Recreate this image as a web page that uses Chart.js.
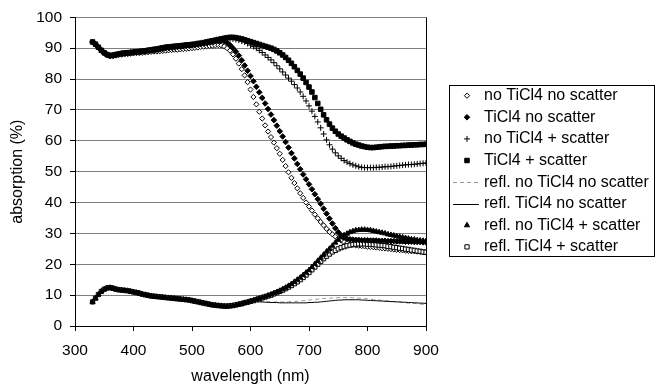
<!DOCTYPE html>
<html>
<head>
<meta charset="utf-8">
<script src="https://cdn.jsdelivr.net/npm/chart.js@4/dist/chart.umd.min.js"></script>
<style>
html,body{margin:0;padding:0;background:#fff;}
#wrap{width:657px;height:386px;}
</style>
</head>
<body>
<div id="wrap"><canvas id="c" width="657" height="386"></canvas></div>
<script>
// wavelength (nm)
const wavelengths = [330,335,340,345,350,355,360,365,370,375,380,385,390,395,400,405,410,415,420,425,430,435,440,445,450,455,460,465,470,475,480,485,490,495,500,505,510,515,520,525,530,535,540,545,550,555,560,565,570,575,580,585,590,595,600,605,610,615,620,625,630,635,640,645,650,655,660,665,670,675,680,685,690,695,700,705,710,715,720,725,730,735,740,745,750,755,760,765,770,775,780,785,790,795,800,805,810,815,820,825,830,835,840,845,850,855,860,865,870,875,880,885,890,895,900];

const seriesNames = ["no TiCl4 no scatter","TiCl4 no scatter","no TiCl4 + scatter","TiCl4 + scatter","refl. no TiCl4 no scatter","refl. TiCl4 no scatter","refl. no TiCl4 + scatter","refl. TiCl4 + scatter"];

const noTiNoScat = [92.0,91.2,90.2,89.2,88.4,87.8,87.4,87.4,87.6,87.8,
87.9,88.0,88.1,88.2,88.3,88.4,88.4,88.5,88.6,88.7,
88.8,88.9,88.9,89.0,89.1,89.2,89.3,89.4,89.5,89.5,
89.6,89.7,89.8,89.9,90.0,90.1,90.2,90.4,90.5,90.6,
90.7,90.8,90.9,91.0,90.9,
90.6,90.0,89.2,88.0,86.6,85.0,83.2,81.2,79.0,76.6,
74.2,71.8,69.4,67.2,65.0,63.0,61.2,59.4,57.6,55.8,
53.8,51.8,49.8,48.0,46.3,44.6,43.0,41.5,40.0,38.7,
37.4,36.1,34.9,33.7,32.6,31.5,30.5,29.7,29.0,28.3,
27.7,27.2,26.8,26.5,26.3,26.1,26.0,25.9,25.8,25.7,
25.6,25.5,25.4,25.3,25.2,25.1,25.0,24.9,24.8,24.7,
24.6,24.5,24.4,24.3,24.2,24.2,24.1,24.0,23.9,23.8];

const tiNoScat = [92.0,91.3,90.3,89.3,88.5,87.9,87.6,87.7,87.9,88.1,
88.3,88.4,88.5,88.6,88.7,88.8,88.9,89.0,89.1,89.2,
89.3,89.4,89.5,89.7,89.8,90.0,90.1,90.2,90.3,90.4,
90.5,90.6,90.7,90.8,90.9,91.0,91.2,91.3,91.5,91.7,
91.9,92.1,92.3,92.4,92.5,
92.3,91.8,91.0,90.0,88.9,87.6,86.1,84.4,82.7,81.0,
79.3,77.5,75.7,73.9,72.1,70.3,68.5,66.7,64.9,63.1,
61.4,59.6,57.8,56.0,54.3,52.5,50.8,49.1,47.5,45.9,
44.3,42.7,41.1,39.6,38.0,36.4,34.8,33.2,31.7,30.4,
29.4,28.7,28.3,28.1,28.0,27.9,27.9,27.8,27.8,27.8,
27.7,27.7,27.7,27.6,27.6,27.6,27.5,27.5,27.5,27.4,
27.4,27.4,27.3,27.3,27.3,27.2,27.2,27.2,27.1,27.1];

const noTiScat = [92.0,91.3,90.3,89.3,88.5,87.9,87.6,87.7,87.9,88.1,
88.3,88.4,88.5,88.6,88.7,88.8,88.9,89.0,89.1,89.3,
89.4,89.6,89.7,89.9,90.0,90.2,90.3,90.4,90.5,90.6,
90.7,90.8,90.9,91.0,91.1,91.2,91.4,91.5,91.7,91.9,
92.1,92.3,92.5,92.6,92.8,
93.0,93.1,93.1,93.0,92.8,92.6,92.3,92.0,91.5,91.0,
90.5,90.0,89.3,88.6,87.8,87.0,86.2,85.3,84.3,83.3,
82.3,81.3,80.3,79.3,78.2,77.1,75.8,74.4,72.9,71.3,
69.6,67.9,66.1,64.2,62.2,60.3,58.7,57.3,56.1,55.1,
54.3,53.6,53.1,52.6,52.2,51.9,51.6,51.4,51.3,51.3,
51.3,51.3,51.4,51.4,51.5,51.6,51.6,51.7,51.8,51.9,
52.0,52.1,52.2,52.3,52.3,52.4,52.5,52.6,52.7,52.8];

const tiScat = [92.0,91.3,90.3,89.3,88.5,87.9,87.6,87.7,87.9,88.1,
88.3,88.4,88.5,88.6,88.7,88.8,88.9,89.0,89.1,89.3,
89.4,89.6,89.7,89.9,90.1,90.3,90.4,90.5,90.6,90.7,
90.8,90.9,91.0,91.1,91.2,91.3,91.5,91.6,91.8,92.0,
92.2,92.4,92.6,92.8,93.0,
93.2,93.4,93.5,93.5,93.4,93.2,93.0,92.7,92.4,92.1,
91.8,91.5,91.2,90.9,90.6,90.3,90.0,89.6,89.1,88.5,
87.8,87.0,86.1,85.1,84.0,82.8,81.6,80.3,78.9,77.4,
75.8,74.0,72.1,70.2,68.4,66.8,65.4,64.1,63.1,62.2,
61.5,60.9,60.3,59.8,59.3,58.9,58.6,58.3,58.1,57.9,
57.8,57.8,57.9,58.0,58.1,58.2,58.2,58.3,58.3,58.4,
58.4,58.5,58.5,58.6,58.6,58.7,58.7,58.8,58.8,58.9];

const reflNoTiNoScat = [7.8,9.0,10.2,11.2,11.9,12.3,12.4,12.2,11.9,11.7,
11.6,11.5,11.4,11.2,11.0,10.8,10.6,10.3,10.1,9.9,
9.7,9.6,9.5,9.4,9.3,9.2,9.1,9.0,8.9,8.8,
8.7,8.6,8.5,8.4,8.2,8.0,7.8,7.6,7.4,7.2,
7.0,6.8,6.7,6.6,6.5,6.4,6.4,6.5,6.6,6.8,
7.0,7.2,7.5,7.7,8.0,
8.0,8.0,7.9,7.9,7.9,7.8,7.8,7.8,7.8,7.8,
7.8,7.8,7.9,7.9,8.0,8.0,8.1,8.2,8.3,8.4,
8.5,8.6,8.7,8.8,8.9,9.0,9.0,9.1,9.1,9.2,
9.2,9.2,9.2,9.2,9.1,9.1,9.0,9.0,8.9,8.8,
8.7,8.6,8.5,8.4,8.3,8.2,8.1,8.0,7.9,7.8,
7.7,7.6,7.5,7.4,7.3,7.3,7.2,7.1,7.0,7.0];

const reflTiNoScat = [7.8,9.0,10.2,11.2,11.9,12.3,12.4,12.2,11.9,11.7,
11.6,11.5,11.4,11.2,11.0,10.8,10.6,10.3,10.1,9.9,
9.7,9.6,9.5,9.4,9.3,9.2,9.1,9.0,8.9,8.8,
8.7,8.6,8.5,8.4,8.2,8.0,7.8,7.6,7.4,7.2,
7.0,6.8,6.7,6.6,6.5,6.4,6.4,6.5,6.6,6.8,
7.0,7.2,7.5,7.7,8.0,
7.9,7.9,7.8,7.8,7.7,7.7,7.6,7.6,7.6,7.5,
7.5,7.5,7.5,7.5,7.5,7.5,7.5,7.5,7.5,7.6,
7.6,7.7,7.7,7.8,7.9,8.0,8.1,8.2,8.3,8.4,
8.4,8.5,8.5,8.5,8.5,8.5,8.5,8.4,8.4,8.3,
8.3,8.2,8.2,8.1,8.1,8.0,8.0,7.9,7.9,7.8,
7.8,7.7,7.7,7.6,7.6,7.5,7.5,7.4,7.4,7.3];

const reflNoTiScat = [7.8,9.0,10.2,11.2,11.9,12.3,12.4,12.2,11.9,11.7,
11.6,11.5,11.4,11.2,11.0,10.8,10.6,10.3,10.1,9.9,
9.7,9.6,9.5,9.4,9.3,9.2,9.1,9.0,8.9,8.8,
8.7,8.6,8.5,8.4,8.2,8.0,7.8,7.6,7.4,7.2,
7.0,6.8,6.7,6.6,6.5,6.4,6.4,6.5,6.6,6.8,
7.0,7.2,7.5,7.7,8.0,
8.3,8.6,8.9,9.2,9.5,9.9,10.2,10.6,11.0,11.4,
11.9,12.4,13.0,13.6,14.3,15.0,15.7,16.5,17.3,18.1,
19.1,20.1,21.1,22.1,23.1,24.1,25.0,26.0,27.0,27.9,
28.7,29.4,29.9,30.4,30.7,31.0,31.1,31.2,31.2,31.1,
31.0,30.8,30.6,30.4,30.2,30.0,29.7,29.5,29.3,29.1,
28.9,28.7,28.5,28.3,28.1,28.0,27.8,27.7,27.6,27.5];

const reflTiScat = [7.8,9.0,10.2,11.2,11.9,12.3,12.4,12.2,11.9,11.7,
11.6,11.5,11.4,11.2,11.0,10.8,10.6,10.3,10.1,9.9,
9.7,9.6,9.5,9.4,9.3,9.2,9.1,9.0,8.9,8.8,
8.7,8.6,8.5,8.4,8.2,8.0,7.8,7.6,7.4,7.2,
7.0,6.8,6.7,6.6,6.5,6.4,6.4,6.5,6.6,6.8,
7.0,7.2,7.5,7.7,8.0,
8.2,8.5,8.8,9.1,9.4,9.7,10.0,10.4,10.8,11.2,
11.6,12.1,12.6,13.1,13.7,14.3,15.0,15.7,16.5,17.3,
18.2,19.1,20.0,20.9,21.8,22.6,23.3,24.0,24.5,25.0,
25.4,25.7,26.0,26.2,26.4,26.5,26.6,26.6,26.6,26.5,
26.5,26.4,26.3,26.2,26.1,26.0,25.8,25.7,25.5,25.4,
25.2,25.1,24.9,24.8,24.6,24.5,24.3,24.2,24.0,23.9];

const yTicks = [0,10,20,30,40,50,60,70,80,90,100];
const xTicks = [300,400,500,600,700,800,900];

const FONT = "'Liberation Sans', Arial, sans-serif";

function pts(arr){ return wavelengths.map((w,i)=>({x:w,y:arr[i]})); }

// order: lower value is drawn on top
const styles = [
  {pointStyle:'rectRot', pointRadius:2.6, backgroundColor:'#ffffff', borderColor:'#000', pointBorderWidth:1, order:6},
  {pointStyle:'rectRot', pointRadius:2.8, backgroundColor:'#000', borderColor:'#000', pointBorderWidth:1, order:2},
  {pointStyle:'cross', pointRadius:3, backgroundColor:'#000', borderColor:'#000', pointBorderWidth:1, order:3},
  {pointStyle:'rect', pointRadius:3.2, backgroundColor:'#000', borderColor:'#000', pointBorderWidth:1, order:1},
  {line:true, borderColor:'#9a9a9a', borderDash:[4,3], borderWidth:1, order:8},
  {line:true, borderColor:'#000', borderWidth:1, order:7},
  {pointStyle:'triangle', pointRadius:3, backgroundColor:'#000', borderColor:'#000', pointBorderWidth:1, order:1},
  {pointStyle:'rect', pointRadius:3, backgroundColor:'#ffffff', borderColor:'#000', pointBorderWidth:1, order:5}
];
const allSeries = [noTiNoScat, tiNoScat, noTiScat, tiScat, reflNoTiNoScat, reflTiNoScat, reflNoTiScat, reflTiScat];

const datasets = allSeries.map((s,i)=>{
  const st = styles[i];
  if (st.line) {
    return {label:seriesNames[i], data:pts(s), showLine:true, pointRadius:0, pointHoverRadius:0, order:st.order,
      borderColor:st.borderColor, borderWidth:st.borderWidth, borderDash:st.borderDash||[], tension:0, fill:false};
  }
  return {label:seriesNames[i], data:pts(s), showLine:false, pointStyle:st.pointStyle, order:st.order,
    pointRadius:st.pointRadius, pointBackgroundColor:st.backgroundColor, pointBorderColor:st.borderColor,
    pointBorderWidth:st.pointBorderWidth, backgroundColor:st.backgroundColor, borderColor:st.borderColor};
});

const frameAndLegend = {
  id:'frameAndLegend',
  afterDraw(chart){
    const ctx = chart.ctx, a = chart.chartArea;
    ctx.save();
    ctx.strokeStyle = '#000'; ctx.lineWidth = 1;
    ctx.beginPath(); ctx.moveTo(Math.round(a.right)+0.5, a.top); ctx.lineTo(Math.round(a.right)+0.5, a.bottom+5); ctx.stroke();
    const bx = 449.5, by = 85.5, bw = 205, bh = 171;
    ctx.fillStyle = '#fff'; ctx.fillRect(bx,by,bw,bh);
    ctx.strokeStyle = '#000'; ctx.strokeRect(bx,by,bw,bh);
    ctx.font = "16px " + FONT;
    ctx.textBaseline = 'middle'; ctx.textAlign = 'left';
    for (let i=0;i<seriesNames.length;i++){
      const cy = 95.7 + 21.6*i, cx = 467;
      const st = styles[i];
      if (st.line) {
        ctx.save();
        ctx.strokeStyle = st.borderColor; ctx.lineWidth = 1;
        ctx.setLineDash(st.borderDash||[]);
        ctx.beginPath(); ctx.moveTo(453, Math.round(cy)+0.5); ctx.lineTo(479, Math.round(cy)+0.5); ctx.stroke();
        ctx.restore();
      } else {
        ctx.fillStyle = st.backgroundColor; ctx.strokeStyle = st.borderColor; ctx.lineWidth = st.pointBorderWidth;
        Chart.helpers.drawPoint(ctx, {pointStyle:st.pointStyle, radius:st.pointRadius, borderWidth:st.pointBorderWidth, rotation:0}, cx, cy);
      }
      ctx.fillStyle = '#000';
      ctx.fillText(seriesNames[i], 484, cy);
    }
    ctx.restore();
  }
};

new Chart(document.getElementById('c'), {
  type:'scatter',
  data:{datasets},
  options:{
    responsive:false, devicePixelRatio:1, animation:false,
    layout:{padding:{top:16,left:0,right:231,bottom:0}},
    plugins:{legend:{display:false}, tooltip:{enabled:false}},
    scales:{
      x:{type:'linear', min:300, max:900,
        afterBuildTicks(s){ s.ticks = xTicks.map(v=>({value:v})); },
        afterFit(s){ s.height = 60; },
        ticks:{font:{family:FONT,size:15.5}, color:'#000', padding:10, maxRotation:0},
        grid:{drawOnChartArea:false, drawTicks:true, tickLength:5, tickColor:'#000'},
        border:{color:'#000', width:1},
        title:{display:true, text:'wavelength (nm)', font:{family:FONT,size:16}, color:'#000', padding:{top:0,bottom:0}}
      },
      y:{min:0, max:100,
        afterBuildTicks(s){ s.ticks = yTicks.map(v=>({value:v})); },
        afterFit(s){ s.width = 75; },
        ticks:{font:{family:FONT,size:15.5}, color:'#000', padding:8},
        grid:{color:'#808080', lineWidth:1, drawTicks:true, tickLength:5, tickColor:'#000'},
        border:{color:'#000', width:1},
        title:{display:true, text:'absorption (%)', font:{family:FONT,size:16}, color:'#000', padding:{top:8,bottom:0}}
      }
    }
  },
  plugins:[frameAndLegend]
});
</script>
</body>
</html>
